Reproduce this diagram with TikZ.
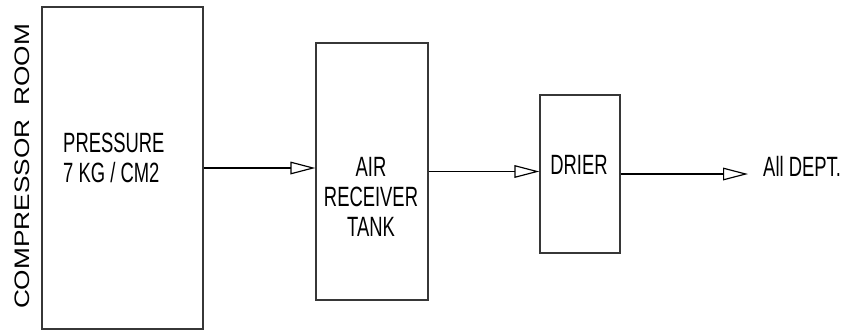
\documentclass[tikz,border=0pt]{standalone}
\usepackage{fontspec}
\usepackage{tikz}
\usetikzlibrary{arrows.meta,positioning,calc}
\newfontfamily\narrowsans[FakeStretch=0.66]{Liberation Sans}
\newfontfamily\widesans[FakeStretch=1.25]{Liberation Sans}
\definecolor{boxline}{RGB}{55,55,55}

\begin{document}
\begin{tikzpicture}[x=0.03cm,y=-0.03cm,>={Triangle[open,length=0.75cm,width=0.38cm]},
  blk/.style={draw=boxline,line width=1pt,rectangle,inner sep=0pt},
  lbl/.style={inner sep=0pt,font=\narrowsans\fontsize{23.8pt}{25.6pt}\selectfont},
  flow/.style={->,line width=1pt}]
\useasboundingbox (0,0) rectangle (845,331);
% blocks
\node[blk,minimum width=4.83cm,minimum height=9.66cm](press) at (122.5,168){};
\node[blk,minimum width=3.36cm,minimum height=7.71cm](recv) at (372,171.5){};
\node[blk,minimum width=2.4cm,minimum height=4.74cm](drier) at (580,174){};
% texts
\node[inner sep=0pt,rotate=90,font=\widesans\fontsize{17.9pt}{20pt}\selectfont](room) at (22.5,166.5){COMPRESSOR\hspace{12pt}ROOM};
\node[lbl,align=left,anchor=north west](presstxt) at (63,133){PRESSURE\\7 KG / CM2};
\node[lbl,align=center,anchor=north](recvtxt) at (371,157){AIR\\RECEIVER\\TANK};
\node[lbl,anchor=north](driertxt) at (579,155){DRIER};
\node[lbl,anchor=base west,inner xsep=0.45cm](dept) at (748,176){All DEPT.};
% flow
\draw[flow](press.east)--(press.east -| recv.west);
\draw[flow](recv.east)--(recv.east -| drier.west);
\draw[flow](drier.east)--(dept.west |- drier.east);
\end{tikzpicture}
\end{document}
